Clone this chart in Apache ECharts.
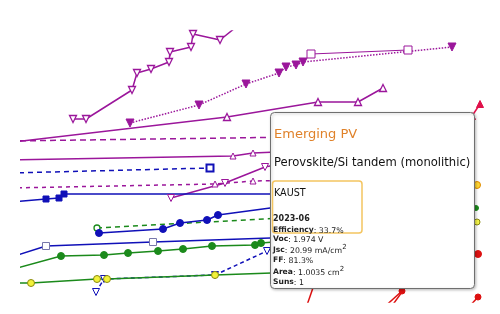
<!DOCTYPE html>
<html>
<head>
<meta charset="utf-8">
<script src="https://cdn.jsdelivr.net/npm/echarts@6/dist/echarts.min.js"></script>
<style>html,body{margin:0;padding:0;background:#fff;}#c{width:500px;height:314px;}</style>
</head>
<body>
<div id="c"></div>
<script>
// Data (chart units)
const seriesA = [[73,119],[86,119],[132,90],[137,73],[151,69],[169,62],[170,52],[191,47],[193,34],[220,40],[240,24]];
const seriesB = [[130,123],[199,105],[246,84],[279,73],[286,67],[296,65],[303,62],[452,47]];
const seriesC = [[311,54],[408,50]];
const seriesD = [[10,142.3],[227,117],[318,102],[358,102],[383,88]];
const seriesD2 = [[10,141],[300,137]];
const seriesE = [[10,160],[233,156],[253,153],[300,151]];
const seriesF = [[10,173],[210,168]];
const seriesG = [[10,188],[215,184],[253,181],[300,180]];
const seriesH = [[171,198],[225,183],[265,167],[300,160]];
const seriesI = [[10,202],[46,199],[59,198],[64,194],[300,194]];
const seriesJ = [[99,233],[163,229],[180,223],[207,220],[218,215],[300,204]];
const seriesK = [[97,228],[300,217]];
const seriesL = [[10,257.5],[46,246],[153,242],[300,237]];
const seriesM = [[10,270],[61,256],[104,255],[128,253],[158,251],[183,249],[212,246],[255,245],[261,243],[300,240]];
const seriesN = [[10,283],[31,283],[97,279],[107,279],[215,275],[300,272]];
const seriesO = [[96,292],[104,279],[215,275],[267,251],[300,240]];
const redA = [[315,282],[306,308]];
const redB = [[402,291],[381,310]];
const redB2 = [[407,285],[389,310]];
const redC = [[478,297],[468,308]];
const redD = [[472,116],[480,104]];
const edgeOrange = [[477,185]];
const edgeGreen = [[476,208]];
const edgeYellow = [[477,222]];
const edgeRed = [[478,254]];

const tipTitle = 'Emerging PV';
const tipCategory = 'Perovskite/Si tandem (monolithic)';
const tipInstitution = 'KAUST';
const tipDate = '2023-06';
const tipEfficiency = '33.7%';
const tipVoc = '1.974 V';
const tipJsc = '20.99 mA/cm';
const tipFF = '81.3%';
const tipArea = '1.0035 cm';
const tipSuns = '1';

const purple = '#9b169b', blue = '#1010b8', green = '#1b8a1b', red = '#dd1111';

function ln(data, color, type, symbol, opts) {
  opts = opts || {};
  return {
    type: 'line', data: data, clip: true, silent: true, animation: false,
    lineStyle: { color: color, width: opts.width || 1.5, type: type },
    symbol: symbol || 'none', symbolSize: opts.size || 7,
    symbolRotate: opts.rotate || 0,
    showSymbol: true,
    itemStyle: { color: opts.fill || color, borderColor: opts.border || color, borderWidth: opts.bw || 1 },
    z: opts.z || 2
  };
}
function sc(data, fill, border, size) {
  return { type: 'scatter', data: data, clip: false, silent: true, animation: false, symbolSize: size,
    itemStyle: { color: fill, borderColor: border, borderWidth: 1, opacity: 1 }, z: 3 };
}

const chart = echarts.init(document.getElementById('c'), null, { renderer: 'canvas' });

const rich = {
  b: { fontFamily: 'DejaVu Sans', fontWeight: 'bold', fontSize: 7.6, color: '#222', lineHeight: 11, verticalAlign: 'bottom' },
  n: { fontFamily: 'DejaVu Sans', fontSize: 7.8, color: '#222', lineHeight: 11, verticalAlign: 'bottom' },
  s: { fontFamily: 'DejaVu Sans', fontSize: 7, color: '#222', lineHeight: 7, verticalAlign: 'top' }
};
function tline(y, content) {
  return { type: 'text', x: 273, y: y, z: 101, zlevel: 1, style: { text: content, rich: rich, verticalAlign: 'middle', fill: '#222' } };
}
function txt(x, y, text, size, color, weight) {
  return { type: 'text', x: x, y: y, z: 101, zlevel: 1, style: { text: text, fontFamily: 'DejaVu Sans', fontSize: size, fontWeight: weight || 'normal', fill: color, verticalAlign: 'middle' } };
}

chart.setOption({
  animation: false,
  backgroundColor: '#fff',
  grid: { left: 21, top: 31, right: 18, bottom: 12 },
  xAxis: { type: 'value', min: 21, max: 482, show: false },
  yAxis: { type: 'value', min: 31, max: 302, inverse: true, show: false },
  series: [
    ln(seriesA, purple, 'solid', 'triangle', { rotate: 180, fill: '#fff', bw: 1.3 }),
    ln(seriesB, purple, 'dotted', 'triangle', { rotate: 180, size: 8 }),
    ln(seriesC, purple, 'solid', 'rect', { fill: '#fff', width: 1, size: 8 }),
    ln(seriesD2, purple, [6, 4], 'none'),
    ln(seriesD, purple, 'solid', 'triangle', { fill: '#fff', bw: 1.3 }),
    ln(seriesE, purple, 'solid', 'triangle', { fill: '#fff', bw: 1 , size: 6}),
    ln(seriesF, blue, [5, 4], 'rect', { fill: '#fff', bw: 2, size: 7 }),
    ln(seriesG, purple, [4, 4], 'triangle', { fill: '#fff', bw: 1, size: 6 }),
    ln(seriesH, purple, 'solid', 'triangle', { rotate: 180, fill: '#fff', bw: 1, size: 7 }),
    ln(seriesI, blue, 'solid', 'rect', { size: 6 }),
    ln(seriesO, blue, [4, 3], 'triangle', { rotate: 180, fill: '#fff', bw: 1, size: 7 }),
    ln(seriesK, green, [5, 4], 'circle', { fill: '#fff', bw: 1.3, size: 6 }),
    ln(seriesJ, blue, 'solid', 'circle', { size: 7 }),
    ln(seriesL, blue, 'solid', 'rect', { fill: '#fff', border: '#7777aa', bw: 1, size: 7 }),
    ln(seriesM, green, 'solid', 'circle', { size: 7 }),
    ln(seriesN, green, 'solid', 'circle', { fill: '#f2f23a', border: '#8a8a10', bw: 1, size: 7 }),
    ln(redA, red, 'solid', 'none'),
    ln(redB2, red, 'solid', 'none'),
    ln(redB, red, 'solid', 'circle', { size: 6 }),
    ln(redC, red, 'solid', 'circle', { size: 6 }),
    ln(redD, '#e0104a', 'solid', 'triangle', { size: 7 }),
    sc(edgeOrange, '#ffd633', '#e08a00', 7),
    sc(edgeGreen, green, green, 5),
    sc(edgeYellow, '#f5f54a', '#8a8a10', 6),
    sc(edgeRed, red, red, 7)
  ],
  graphic: [
    { type: 'rect', z: 100, zlevel: 1, silent: true, shape: { x: 270.5, y: 112.5, width: 204, height: 176, r: 4 },
      style: { fill: '#fff', stroke: '#6f6f6f', lineWidth: 1, shadowBlur: 3, shadowColor: 'rgba(0,0,0,0.25)', shadowOffsetX: 1, shadowOffsetY: 1 } },
    { type: 'rect', z: 101, zlevel: 1, silent: true, shape: { x: 272.5, y: 181, width: 89.5, height: 52, r: 3 },
      style: { fill: 'none', stroke: '#f4c560', lineWidth: 1.5 } },
    txt(274, 135, tipTitle, 13, '#e0822a'),
    txt(274, 163, tipCategory, 11.6, '#111'),
    txt(274, 193, tipInstitution, 9.6, '#111'),
    txt(273, 219, tipDate, 8, '#222', 'bold'),
    tline(229, '{b|Efficiency}{n|: ' + tipEfficiency + '}'),
    tline(238, '{b|Voc}{n|: ' + tipVoc + '}'),
    tline(249, '{b|Jsc}{n|: ' + tipJsc + '}{s|2}'),
    tline(259, '{b|FF}{n|: ' + tipFF + '}'),
    tline(271, '{b|Area}{n|: ' + tipArea + '}{s|2}'),
    tline(281, '{b|Suns}{n|: ' + tipSuns + '}')
  ]
});
</script>
</body>
</html>
